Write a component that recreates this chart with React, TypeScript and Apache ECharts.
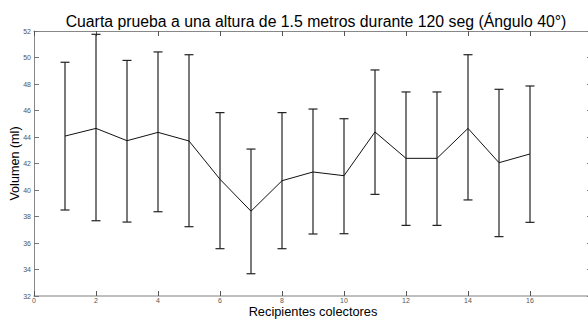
import React, { useEffect, useRef } from "react";
import * as echarts from "echarts";

const recipients = [1, 2, 3, 4, 5, 6, 7, 8, 9, 10, 11, 12, 13, 14, 15, 16];
const means = [44.07, 44.65, 43.72, 44.35, 43.7, 40.81, 38.4, 40.7, 41.36, 41.08, 44.38, 42.39, 42.39, 44.65, 42.06, 42.72];
const upper = [49.64, 51.75, 49.78, 50.42, 50.21, 45.84, 43.09, 45.84, 46.11, 45.38, 49.06, 47.4, 47.4, 50.21, 47.6, 47.85];
const lower = [38.49, 37.68, 37.58, 38.36, 37.23, 35.57, 33.68, 35.57, 36.68, 36.7, 39.67, 37.33, 37.33, 39.25, 36.48, 37.56];

const titleText = "Cuarta prueba a una altura de 1.5 metros durante 120 seg (Ángulo 40°)";
const xName = "Recipientes colectores";
const yName = "Volumen (ml)";

export default function App() {
  const ref = useRef<HTMLDivElement>(null);
  useEffect(() => {
    document.body.style.margin = "0";
    const chart = echarts.init(ref.current!, null, { renderer: "svg" });
    const font = "Arial, 'Liberation Sans', sans-serif";
    const axisColor = "#888";
    const tickLabel = { fontSize: 7, color: "#555", fontFamily: font };
    chart.setOption({
      animation: false,
      backgroundColor: "#fff",
      title: {
        text: titleText,
        left: 311,
        textAlign: "center",
        top: 8,
        textStyle: { fontSize: 15.8, fontWeight: "normal", color: "#000", fontFamily: font },
      },
      grid: { left: 34, top: 31, width: 558, height: 265, containLabel: false, outerBoundsMode: "none" },
      xAxis: [
        {
          type: "value",
          position: "bottom",
          min: 0,
          max: 18,
          interval: 2,
          name: xName,
          nameLocation: "middle",
          nameGap: 9,
          nameMoveOverlap: false,
          nameTextStyle: { fontSize: 12.8, color: "#000", fontFamily: font },
          axisLine: { show: true, lineStyle: { color: "#aaa", width: 1.5 } },
          axisTick: { show: true, inside: true, length: 5, lineStyle: { color: "#555" } },
          axisLabel: { ...tickLabel, margin: 1 },
          splitLine: { show: false },
        },
        {
          type: "value",
          position: "top",
          min: 0,
          max: 18,
          interval: 2,
          axisLine: { show: true, onZero: false, lineStyle: { color: axisColor } },
          axisTick: { show: true, inside: true, length: 5, lineStyle: { color: "#555" } },
          axisLabel: { show: false },
          splitLine: { show: false },
        },
      ],
      yAxis: [
        {
          type: "value",
          position: "left",
          min: 32,
          max: 52,
          interval: 2,
          name: yName,
          nameLocation: "middle",
          nameGap: 13,
          nameMoveOverlap: false,
          nameTextStyle: { fontSize: 12.6, color: "#000", fontFamily: font },
          axisLine: { show: true, lineStyle: { color: axisColor } },
          axisTick: { show: true, inside: true, length: 5, lineStyle: { color: "#777" } },
          axisLabel: { ...tickLabel, margin: 3 },
          splitLine: { show: false },
        },
        {
          type: "value",
          position: "right",
          min: 32,
          max: 52,
          interval: 2,
          axisLine: { show: true, onZero: false, lineStyle: { color: axisColor } },
          axisTick: { show: true, inside: true, length: 5, lineStyle: { color: "#777" } },
          axisLabel: { show: false },
          splitLine: { show: false },
        },
      ],
      series: [
        {
          type: "custom",
          xAxisIndex: 0,
          yAxisIndex: 0,
          data: recipients.map((r, i) => [r, lower[i], upper[i]]),
          renderItem: (params: any, api: any) => {
            const x = api.value(0);
            const lo = api.coord([x, api.value(1)]);
            const hi = api.coord([x, api.value(2)]);
            const w = 4.5;
            const style = { stroke: "#222", lineWidth: 1.2 };
            return {
              type: "group",
              children: [
                { type: "line", shape: { x1: lo[0], y1: lo[1], x2: hi[0], y2: hi[1] }, style },
                { type: "line", shape: { x1: hi[0] - w, y1: hi[1], x2: hi[0] + w, y2: hi[1] }, style },
                { type: "line", shape: { x1: lo[0] - w, y1: lo[1], x2: lo[0] + w, y2: lo[1] }, style },
              ],
            };
          },
          z: 2,
        },
        {
          type: "line",
          xAxisIndex: 0,
          yAxisIndex: 0,
          data: recipients.map((r, i) => [r, means[i]]),
          symbol: "none",
          lineStyle: { color: "#111", width: 1 },
          z: 3,
        },
      ],
    });
    return () => chart.dispose();
  }, []);
  return <div ref={ref} style={{ width: 588, height: 320 }} />;
}
